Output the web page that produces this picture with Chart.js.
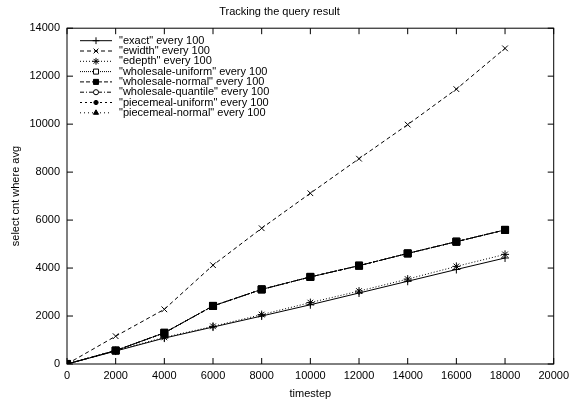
<!DOCTYPE html>
<html>
<head>
<meta charset="utf-8">
<script src="https://cdn.jsdelivr.net/npm/chart.js@4.4.1/dist/chart.umd.min.js"></script>
<style>
  html, body { margin: 0; padding: 0; background: #fff; }
  #wrap { width: 574px; height: 401px; }
</style>
</head>
<body>
<div id="wrap"><canvas id="line-chart" width="574" height="401"></canvas></div>
<script>
var timesteps = [0, 2000, 4000, 6000, 8000, 10000, 12000, 14000, 16000, 18000];
var exact_data = [0, 540, 1080, 1540, 2000, 2470, 2960, 3450, 3940, 4420];
var ewidth_data = [0, 1160, 2280, 4120, 5660, 7120, 8560, 9980, 11460, 13160];
var edepth_data = [0, 560, 1110, 1570, 2060, 2560, 3040, 3540, 4070, 4570];
var wh_uniform_data = [0, 560, 1300, 2420, 3110, 3630, 4100, 4610, 5100, 5590];
var wh_normal_data = [0, 560, 1300, 2420, 3110, 3630, 4100, 4610, 5100, 5590];
var wh_quantile_data = [0, 560, 1300, 2420, 3110, 3630, 4100, 4610, 5100, 5590];
var pm_uniform_data = [0, 560, 1300, 2420, 3110, 3630, 4100, 4610, 5100, 5590];
var pm_normal_data = [0, 560, 1300, 2420, 3110, 3630, 4100, 4610, 5100, 5590];
var x_ticks = [0, 2000, 4000, 6000, 8000, 10000, 12000, 14000, 16000, 18000, 20000];
var y_ticks = [0, 2000, 4000, 6000, 8000, 10000, 12000, 14000];

var fontFamily = "'Liberation Sans', Arial, sans-serif";

function pts(values) {
  return values.map(function (v, i) { return { x: timesteps[i], y: v }; });
}

function series(label, values, dash, style, fill, radius, order) {
  return {
    label: label,
    data: pts(values),
    order: order,
    borderColor: "#000",
    borderWidth: 1,
    borderDash: dash,
    backgroundColor: fill,
    pointStyle: style,
    pointRadius: radius,
    pointBorderColor: "#000",
    pointBackgroundColor: fill,
    pointBorderWidth: 1,
    tension: 0
  };
}

// gnuplot style legend inside the plot, top left
var insideLegend = {
  id: "insideLegend",
  afterDraw: function (chart) {
    var ctx = chart.ctx;
    var area = chart.chartArea;
    ctx.save();
    ctx.font = "11px " + fontFamily;
    ctx.textBaseline = "middle";
    chart.data.datasets.forEach(function (ds, i) {
      var y = area.top + 12.5 + i * 10.3;
      var x0 = area.left + 13, x1 = area.left + 45;
      ctx.strokeStyle = "#000";
      ctx.lineWidth = 1;
      ctx.setLineDash(ds.borderDash || []);
      ctx.beginPath();
      ctx.moveTo(x0, y);
      ctx.lineTo(x1, y);
      ctx.stroke();
      ctx.setLineDash([]);
      ctx.fillStyle = ds.pointBackgroundColor;
      Chart.helpers.drawPoint(ctx, {
        pointStyle: ds.pointStyle,
        radius: Math.min(ds.pointRadius, 4.2) * 0.85,
        rotation: 0,
        borderWidth: 1
      }, (x0 + x1) / 2, y);
      ctx.fillStyle = "#000";
      ctx.fillText(ds.label, area.left + 52, y);
    });
    ctx.restore();
  }
};

// box and inward ticks on all four sides
var frame = {
  id: "frame",
  afterDatasetsDraw: function (chart) {
    var ctx = chart.ctx;
    var a = chart.chartArea;
    var xs = chart.scales.x, ys = chart.scales.y;
    ctx.save();
    ctx.strokeStyle = "#000";
    ctx.lineWidth = 1;
    ctx.strokeRect(a.left, a.top, a.right - a.left, a.bottom - a.top);
    ctx.beginPath();
    x_ticks.forEach(function (v) {
      var px = xs.getPixelForValue(v);
      ctx.moveTo(px, a.bottom); ctx.lineTo(px, a.bottom - 6);
      ctx.moveTo(px, a.top); ctx.lineTo(px, a.top + 6);
    });
    y_ticks.forEach(function (v) {
      var py = ys.getPixelForValue(v);
      ctx.moveTo(a.left, py); ctx.lineTo(a.left + 6, py);
      ctx.moveTo(a.right, py); ctx.lineTo(a.right - 6, py);
    });
    ctx.stroke();
    ctx.restore();
  }
};

function plain(v) { return String(v); }

new Chart("line-chart", {
  type: "line",
  data: {
    datasets: [
      series('"exact" every 100', exact_data, [], "cross", "#000", 4, 1),
      series('"ewidth" every 100', ewidth_data, [4, 3], "crossRot", "#000", 4, 2),
      series('"edepth" every 100', edepth_data, [1, 2], "star", "#000", 4, 3),
      series('"wholesale-uniform" every 100', wh_uniform_data, [1, 1], "rect", "#fff", 5, 9),
      series('"wholesale-normal" every 100', wh_normal_data, [4, 2], "rect", "#000", 5, 0),
      series('"wholesale-quantile" every 100', wh_quantile_data, [4, 2, 1, 2], "circle", "#fff", 3, 8),
      series('"piecemeal-uniform" every 100', pm_uniform_data, [2, 3], "circle", "#000", 2.5, 7),
      series('"piecemeal-normal" every 100', pm_normal_data, [1, 3], "triangle", "#000", 3.5, 6)
    ]
  },
  plugins: [insideLegend, frame],
  options: {
    responsive: false,
    animation: false,
    layout: { padding: { left: 0, right: 15, top: 0, bottom: 0 } },
    plugins: {
      legend: { display: false },
      tooltip: { enabled: false },
      title: {
        display: true,
        text: "Tracking the query result",
        color: "#000",
        font: { family: fontFamily, size: 11, weight: "normal" },
        padding: { top: 5, bottom: 10 }
      }
    },
    scales: {
      x: {
        type: "linear",
        min: 0,
        max: 20000,
        grid: { display: false, drawTicks: false, tickLength: 0 },
        border: { display: false },
        afterBuildTicks: function (s) { s.ticks = x_ticks.map(function (v) { return { value: v }; }); },
        ticks: { color: "#000", maxRotation: 0, padding: 5, callback: plain, font: { family: fontFamily, size: 11 } },
        title: { display: true, text: "timestep", color: "#000", padding: { top: 3, bottom: 0 }, font: { family: fontFamily, size: 11 } },
        afterFit: function (s) { s.height = 37; }
      },
      y: {
        type: "linear",
        min: 0,
        max: 14000,
        grid: { display: false, drawTicks: false, tickLength: 0 },
        border: { display: false },
        afterBuildTicks: function (s) { s.ticks = y_ticks.map(function (v) { return { value: v }; }); },
        ticks: { color: "#000", padding: 7, callback: plain, font: { family: fontFamily, size: 11 } },
        title: { display: true, text: "select cnt where avg", color: "#000", padding: { top: 9, bottom: 0 }, font: { family: fontFamily, size: 11 } },
        afterFit: function (s) { s.width = 67; }
      }
    }
  }
});
</script>
</body>
</html>
